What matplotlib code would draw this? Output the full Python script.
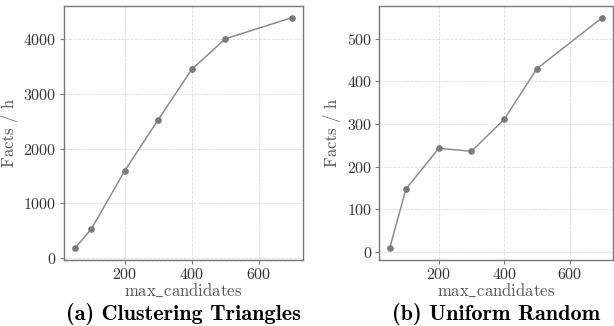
import matplotlib.pyplot as plt

plt.rcParams['font.family'] = 'cmr10'
plt.rcParams['mathtext.fontset'] = 'cm'
plt.rcParams['axes.formatter.use_mathtext'] = True

# Throughput for each max_candidates setting
max_candidates = [50, 100, 200, 300, 400, 500, 700]
facts_clustering = [172, 528, 1595, 2530, 3450, 4010, 4400]
facts_uniform = [8, 148, 243, 236, 311, 430, 550]
captions = ["(a) Clustering Triangles", "(b) Uniform Random"]

fig = plt.figure(figsize=(6.14, 3.26), dpi=100)
ax1 = fig.add_axes([63.7 / 614, 66 / 326, 239.3 / 614, 254 / 326])
ax2 = fig.add_axes([379 / 614, 66 / 326, 234 / 614, 254 / 326])

for ax, facts, cap in zip([ax1, ax2], [facts_clustering, facts_uniform], captions):
    ax.plot(max_candidates, facts, color='#8c8c8c', lw=1.1,
            marker='o', ms=3.8, mfc='#7a7a7a', mec='#7a7a7a')
    ax.grid(True, ls='--', lw=0.6, color='#dcdcdc')
    ax.set_axisbelow(True)
    for s in ax.spines.values():
        s.set_color('#777777')
        s.set_linewidth(1.0)
    ax.tick_params(colors='#333333', labelsize=11.5, length=3, width=0.8,
                   color='#777777', pad=2)
    ax.set_xticks([200, 400, 600])
    # cmr10 has no underscore glyph, so take it from mathtext
    ax.set_xlabel(r'max$\_$candidates', fontsize=12, color='#555555', labelpad=0)
    ax.set_ylabel('Facts / h', fontsize=12, color='#555555', labelpad=4)
    pos = ax.get_position()
    fig.text((pos.x0 + pos.x1) / 2, 0.038, cap, ha='center', va='center',
             family='cmb10', fontsize=16)

ax2.set_yticks([0, 100, 200, 300, 400, 500])

fig.savefig('out.png', dpi=100)
